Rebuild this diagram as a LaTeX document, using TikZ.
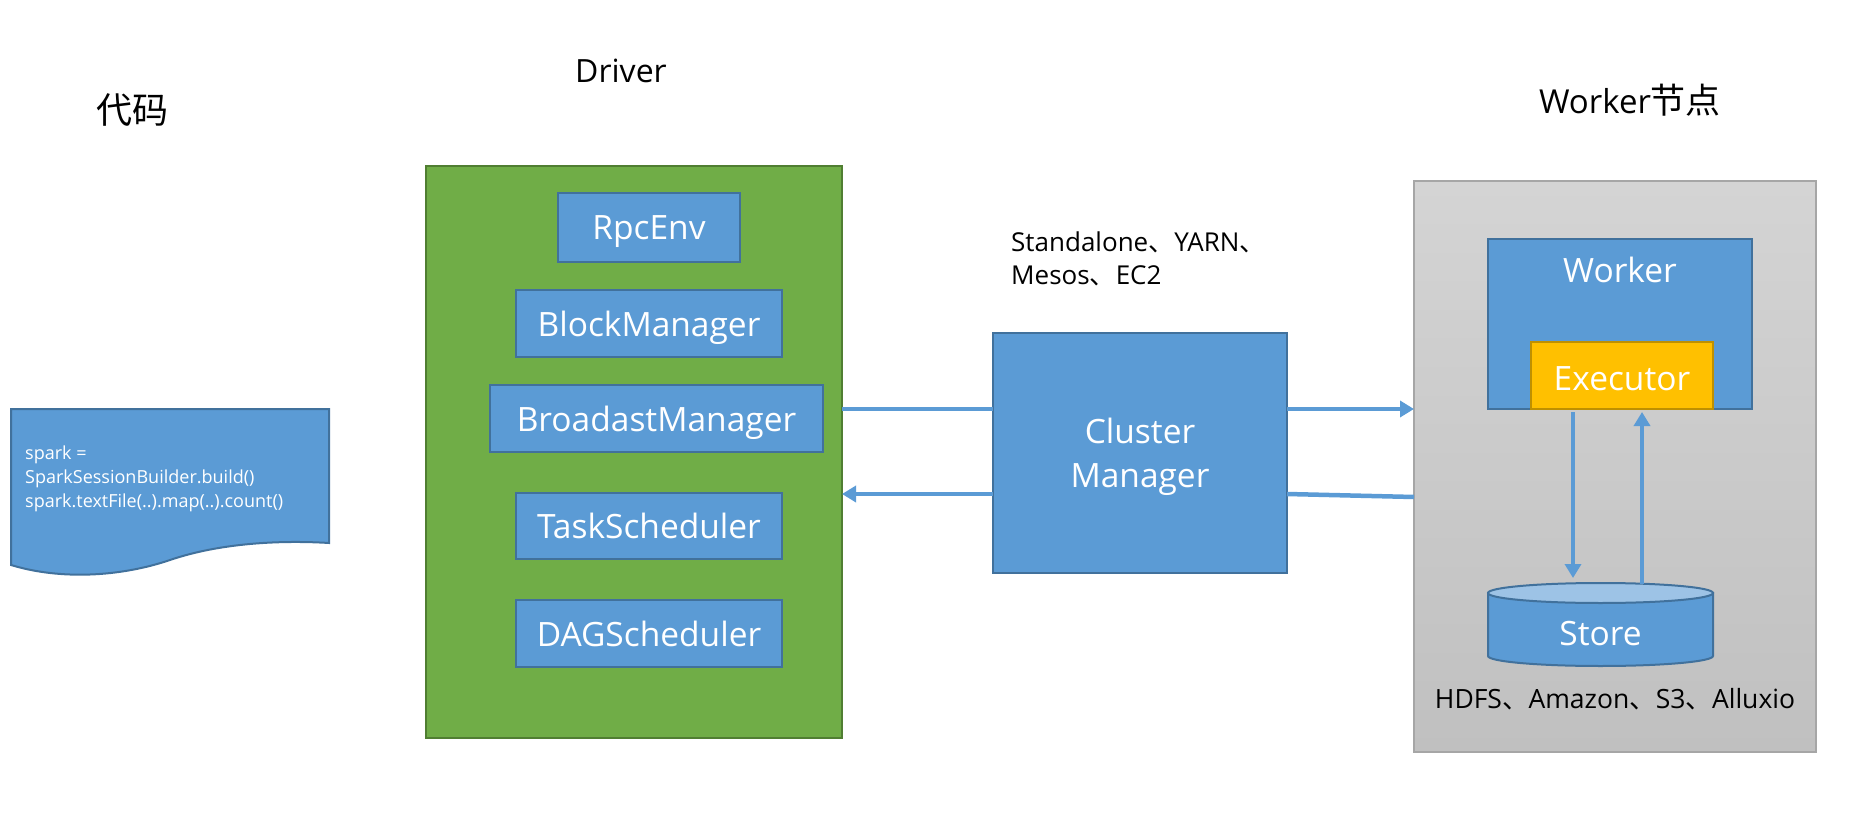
\documentclass[tikz,border=0pt]{standalone}
\usepackage{fontspec}
\setmainfont{Open Sans}
\newfontfamily\cjk{Noto Sans CJK SC}
\usetikzlibrary{arrows.meta,calc}
\definecolor{bl}{HTML}{5B9BD5}
\definecolor{bd}{HTML}{41719C}
\definecolor{gr}{HTML}{70AD47}
\definecolor{grd}{HTML}{507E32}
\definecolor{gy1}{HTML}{D4D4D4}
\definecolor{gy2}{HTML}{C0C0C0}
\definecolor{gyd}{HTML}{A6A6A6}
\definecolor{ye}{HTML}{FFC000}
\definecolor{yed}{HTML}{BF9000}
\definecolor{lbl}{HTML}{9DC3E6}
\tikzset{
  box/.style={draw=bd, fill=bl, line width=2pt, inner sep=0pt, outer sep=0pt, text=white, text depth=0pt, font=\fontsize{33.5}{44}\selectfont},
  title/.style={text=black, font=\fontsize{32}{38}\selectfont, inner sep=0pt},
  note/.style={text=black, font=\fontsize{26}{33}\selectfont, inner sep=0pt},
  conn/.style={draw=bl, line width=4.5pt},
  arr/.style={conn, -{Triangle[length=14pt,width=16pt]}},
}
\begin{document}
\begin{tikzpicture}[x=1pt,y=-1pt]
\useasboundingbox (0,0) rectangle (1855,837);
% titles
\node[title, font=\fontsize{36}{40}\selectfont] (t1) at (132,110) {\cjk 代码};
\node[title] (t2) at (621,71) {Driver};
\node[title, font=\fontsize{33}{38}\selectfont] (t3) at (1630,100) {Worker{\cjk\fontsize{35}{38}\selectfont 节点}};
% code document
\path[draw=bd, fill=bl, line width=2pt] (11,409) -- (329,409) -- (329,543)
  .. controls (280,540) and (220,543) .. (170,560)
  .. controls (120,577) and (60,580) .. (11,565) -- cycle;
\node[anchor=west, align=left, text=white, inner sep=0pt, font=\fontsize{18}{24}\selectfont] (code) at (25,479)
  {spark =\\SparkSessionBuilder.build()\\spark.textFile(..).map(..).count()};
% driver
\node[draw=grd, fill=gr, line width=2pt, minimum width=416pt, minimum height=572pt, inner sep=0pt, outer sep=0pt] (driver) at (634,452) {};
\node[box, minimum width=182pt, minimum height=69pt] (rpc) at (649,227.5) {RpcEnv};
\node[box, minimum width=266pt, minimum height=67pt] (block) at (649,323.5) {BlockManager};
\node[box, minimum width=333pt, minimum height=67pt] (broad) at (656.5,418.5) {BroadastManager};
\node[box, minimum width=266pt, minimum height=66pt] (task) at (649,526) {TaskScheduler};
\node[box, minimum width=266pt, minimum height=67pt] (dag) at (649,633.5) {DAGScheduler};
% cluster manager
\node[note, anchor=west, align=left] (modes) at (1011,258.5) {Standalone{\cjk 、}YARN{\cjk 、}\\Mesos{\cjk 、}EC2};
\node[box, minimum width=294pt, minimum height=240pt, align=center] (cluster) at (1140,453) {Cluster\\Manager};
% worker node
\node[draw=gyd, line width=1.2pt, top color=gy1, bottom color=gy2, minimum width=402pt, minimum height=571pt, inner sep=0pt, outer sep=0pt] (grey) at (1615,466.5) {};
\node[box, minimum width=264pt, minimum height=170pt] (worker) at (1620,324) {};
\node[text=white, inner sep=0pt, text depth=0pt, font=\fontsize{33.5}{40}\selectfont] (wl) at (1620,270) {Worker};
\node[box, draw=yed, fill=ye, minimum width=182pt, minimum height=67pt] (exec) at (1622,375.5) {};
\node[text=white, inner sep=0pt, text depth=0pt, font=\fontsize{33.5}{40}\selectfont] (el) at (1622,379) {Executor};
% store cylinder
\path[draw=bd, fill=bl, line width=2pt] (1488,593) -- (1488,656)
  arc[start angle=180, end angle=360, x radius=112.5pt, y radius=10pt] -- (1713,593) -- cycle;
\draw[draw=bd, fill=lbl, line width=2pt] (1600.5,593) ellipse [x radius=112.5pt, y radius=10pt];
\node[inner sep=0pt, outer sep=0pt, minimum width=225pt, minimum height=83pt] (store) at (1600.5,624.5) {};
\node[text=white, inner sep=0pt, text depth=0pt, font=\fontsize{33.5}{40}\selectfont] (sl) at (1600.5,633) {Store};
\node[note, font=\fontsize{26.5}{30}\selectfont] (fs) at (1615,699) {HDFS{\cjk 、}Amazon{\cjk 、}S3{\cjk 、}Alluxio};
% connectors
\draw[conn] ([yshift=43pt]driver.east) -- ([yshift=43pt]driver.east -| cluster.west);
\draw[arr] ([yshift=-41pt]cluster.west) -- ([yshift=-41pt]cluster.west -| driver.east);
\draw[arr] ([yshift=44pt]cluster.east) -- ([yshift=44pt]cluster.east -| grey.west);
\draw[conn] ([yshift=-41pt]cluster.east) -- ([yshift=-30.5pt]grey.west);
\draw[arr] ([xshift=-49pt,yshift=-3pt]exec.south) -- ([xshift=-27.5pt,yshift=5pt]store.north);
\draw[arr] ([xshift=41.5pt,yshift=-1pt]store.north) -- ([xshift=20pt,yshift=-3pt]exec.south);
\end{tikzpicture}
\end{document}
